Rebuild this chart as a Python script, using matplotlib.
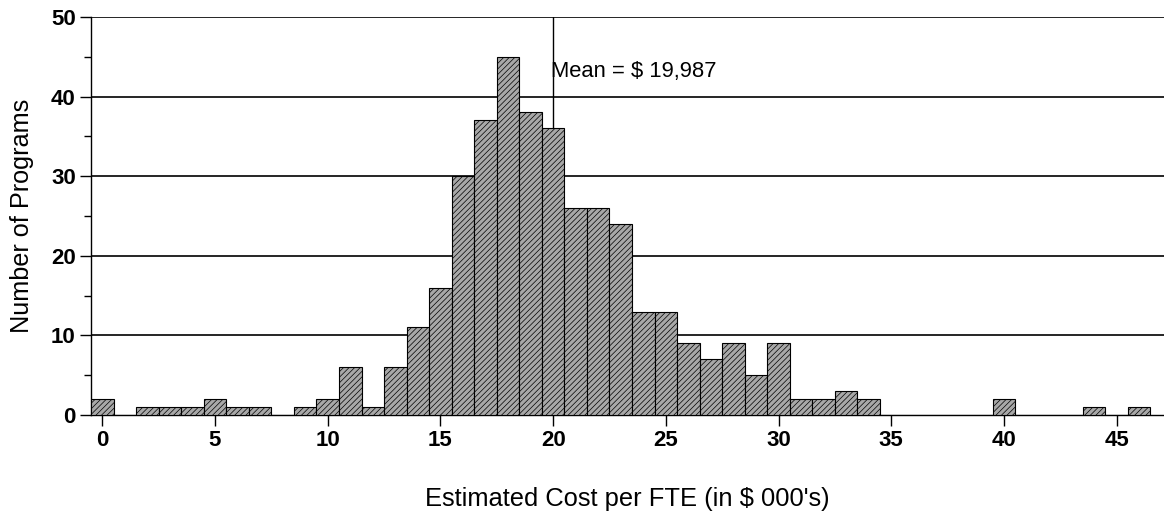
import numpy as np
import matplotlib
matplotlib.use('Agg')
import matplotlib.pyplot as plt
from matplotlib.ticker import MultipleLocator

plt.rcParams['font.family'] = ['Liberation Sans', 'DejaVu Sans']
plt.rcParams['hatch.linewidth'] = 0.5

# histogram bins (in $ 000's) and number of programs per bin
bin_centers = np.arange(0, 47)
counts = [2, 0, 1, 1, 1, 2, 1, 1, 0, 1,
          2, 6, 1, 6, 11, 16, 30, 37, 45, 38,
          36, 26, 26, 24, 13, 13, 9, 7, 9, 5,
          9, 2, 2, 3, 2, 0, 0, 0, 0, 0,
          2, 0, 0, 0, 1, 0, 1]
mean_cost = 19.987
mean_label = 'Mean = $ 19,987'
x_ticks = [0, 5, 10, 15, 20, 25, 30, 35, 40, 45]
y_ticks = [0, 10, 20, 30, 40, 50]

fig = plt.figure(figsize=(11.64, 5.13), dpi=100)
ax = fig.add_axes([0.0782, 0.191, 0.9218, 0.776])

# horizontal grid lines
for y in y_ticks[1:]:
    ax.axhline(y, color='black', lw=1.2, zorder=1)

# mean line
ax.axvline(mean_cost, color='black', lw=1.0, zorder=1)
ax.text(mean_cost - 0.1, 43.2, mean_label, fontsize=15.8, va='center', ha='left', zorder=4)

ax.bar(bin_centers, counts, width=1.0, facecolor='#a8a8a8', edgecolor='black',
       linewidth=0.8, hatch='//////', zorder=3)

ax.set_xlim(-0.5, 47.1)
ax.set_ylim(0, 50)

ax.spines['top'].set_visible(False)
ax.spines['right'].set_visible(False)
ax.spines['left'].set_linewidth(1.0)
ax.spines['bottom'].set_linewidth(1.0)

ax.set_xticks(x_ticks)
ax.set_yticks(y_ticks)
ax.yaxis.set_minor_locator(MultipleLocator(5))
ax.tick_params(axis='both', which='major', length=8, width=1.0, labelsize=16, pad=3)
ax.tick_params(axis='y', which='minor', length=5, width=1.0)
for lbl in ax.get_xticklabels() + ax.get_yticklabels():
    lbl.set_fontweight('bold')

ax.set_xlabel("Estimated Cost per FTE (in $ 000's)", fontsize=18.4, labelpad=26)
ax.set_ylabel('Number of Programs', fontsize=18.2, labelpad=12)

fig.savefig('out.png', dpi=100)
